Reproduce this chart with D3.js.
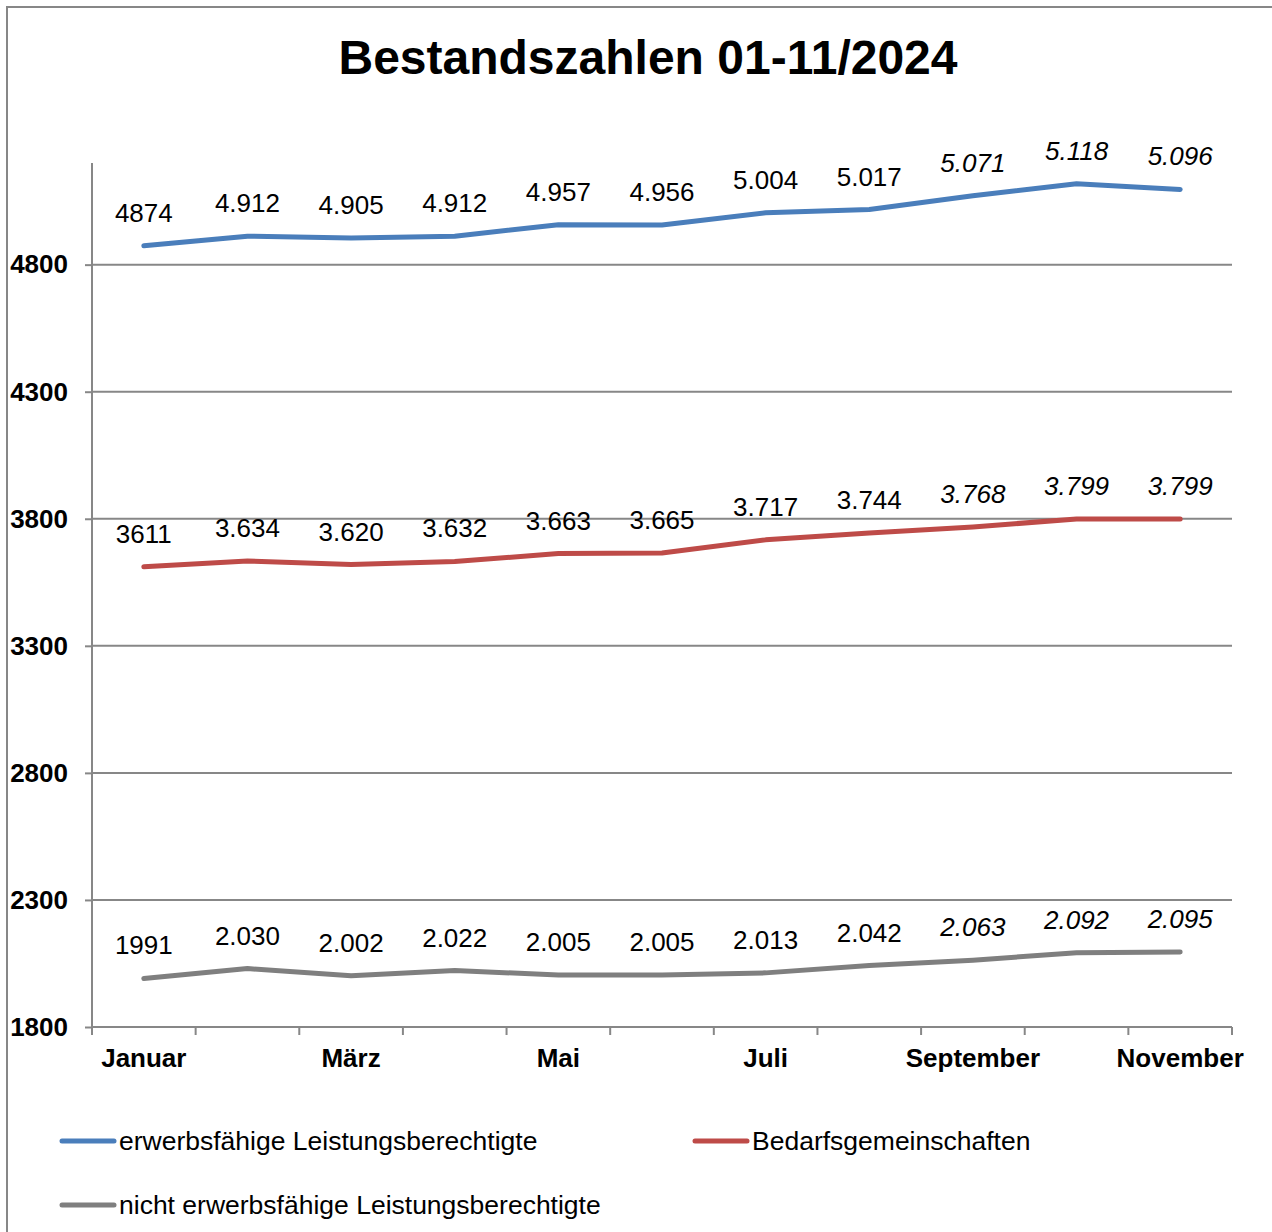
<!DOCTYPE html>
<html>
<head>
<meta charset="utf-8">
<script src="https://cdn.jsdelivr.net/npm/d3@7"></script>
<style>
	body { margin: 0; background: #fff; }
	svg { display: block; font-family: "Liberation Sans", Arial, sans-serif; }
</style>
</head>
<body>
<svg id="canvas" width="1272" height="1232"></svg>
<script>
// data
const months = ["Januar", "Februar", "März", "April", "Mai", "Juni", "Juli", "August", "September", "Oktober", "November"];
const shownMonths = ["Januar", "März", "Mai", "Juli", "September", "November"];
const yTicks = [1800, 2300, 2800, 3300, 3800, 4300, 4800];

const elb = [4874, 4912, 4905, 4912, 4957, 4956, 5004, 5017, 5071, 5118, 5096];
const bg = [3611, 3634, 3620, 3632, 3663, 3665, 3717, 3744, 3768, 3799, 3799];
const nelb = [1991, 2030, 2002, 2022, 2005, 2005, 2013, 2042, 2063, 2092, 2095];

const series = [
	{name: "erwerbsfähige Leistungsberechtigte", values: elb, color: "#4a7ebb"},
	{name: "Bedarfsgemeinschaften", values: bg, color: "#be4b48"},
	{name: "nicht erwerbsfähige Leistungsberechtigte", values: nelb, color: "#7f7f7f"}
];

const svg = d3.select("#canvas");
const plotLeft = 92, plotRight = 1232, plotTop = 163, plotBottom = 1027;

// chart frame
svg.append("path")
	.attr("d", "M7,1232 V7 H1272")
	.attr("fill", "none")
	.attr("stroke", "#878787")
	.attr("stroke-width", 2);

svg.append("text")
	.attr("x", 648).attr("y", 74)
	.attr("text-anchor", "middle")
	.style("font-size", "48px").style("font-weight", "bold")
	.text("Bestandszahlen 01-11/2024");

const x = d3.scaleBand().domain(months).range([plotLeft, plotRight]);
const y = d3.scaleLinear().domain([1800, 5200]).range([plotBottom, plotTop]);

// gridlines
svg.selectAll(".grid")
	.data(yTicks.slice(1))
	.enter().append("line")
	.attr("x1", plotLeft).attr("x2", plotRight)
	.attr("y1", d => y(d)).attr("y2", d => y(d))
	.attr("stroke", "#878787").attr("stroke-width", 2);

// y axis
const yAxis = svg.append("g")
	.attr("transform", "translate(" + plotLeft + ",0)")
	.call(d3.axisLeft(y).tickValues(yTicks).tickSize(7).tickPadding(17).tickFormat(d3.format("d")));
yAxis.select(".domain").attr("stroke", "#878787").attr("stroke-width", 2).attr("d", "M0," + plotTop + "V" + plotBottom);
yAxis.selectAll(".tick line").attr("stroke", "#878787").attr("stroke-width", 2);
yAxis.selectAll(".tick text")
	.attr("fill", "#000")
	.style("font-size", "26px").style("font-weight", "bold")
	.style("font-family", "'Liberation Sans', Arial, sans-serif");

// x axis with ticks on band edges
const xg = svg.append("g");
xg.append("line")
	.attr("x1", plotLeft).attr("x2", plotRight)
	.attr("y1", plotBottom).attr("y2", plotBottom)
	.attr("stroke", "#878787").attr("stroke-width", 2);
xg.selectAll(".xtick")
	.data(months.concat(["end"]))
	.enter().append("line")
	.attr("x1", (d, i) => plotLeft + i * x.bandwidth())
	.attr("x2", (d, i) => plotLeft + i * x.bandwidth())
	.attr("y1", plotBottom).attr("y2", plotBottom + 8)
	.attr("stroke", "#878787").attr("stroke-width", 2);
xg.selectAll(".xlabel")
	.data(shownMonths)
	.enter().append("text")
	.attr("x", d => x(d) + x.bandwidth() / 2)
	.attr("y", 1067)
	.attr("text-anchor", "middle")
	.style("font-size", "26px").style("font-weight", "bold")
	.text(d => d);

// lines
const line = d3.line()
	.x((d, i) => x(months[i]) + x.bandwidth() / 2)
	.y(d => y(d));

svg.selectAll(".series")
	.data(series)
	.enter().append("path")
	.attr("d", d => line(d.values))
	.attr("fill", "none")
	.attr("stroke", d => d.color)
	.attr("stroke-width", 5)
	.attr("stroke-linecap", "round")
	.attr("stroke-linejoin", "round");

// data labels
const fmt = d3.formatLocale({decimal: ",", thousands: ".", grouping: [3]}).format(",d");
series.forEach(s => {
	svg.selectAll(null)
		.data(s.values)
		.enter().append("text")
		.attr("x", (d, i) => x(months[i]) + x.bandwidth() / 2)
		.attr("y", d => y(d) - 24)
		.attr("text-anchor", "middle")
		.style("font-size", "26px")
		.style("font-style", (d, i) => i >= 8 ? "italic" : "normal")
		.text((d, i) => i === 0 ? String(d) : fmt(d));
});

// legend
const legendPos = [[62, 1141], [695, 1141], [62, 1205]];
const legend = svg.selectAll(".legend")
	.data(series)
	.enter().append("g")
	.attr("transform", (d, i) => "translate(" + legendPos[i][0] + "," + legendPos[i][1] + ")");
legend.append("line")
	.attr("x1", 0).attr("x2", 52)
	.attr("stroke", d => d.color)
	.attr("stroke-width", 5)
	.attr("stroke-linecap", "round");
legend.append("text")
	.attr("x", 57).attr("y", 9)
	.style("font-size", "26.5px")
	.text(d => d.name);
</script>
</body>
</html>
